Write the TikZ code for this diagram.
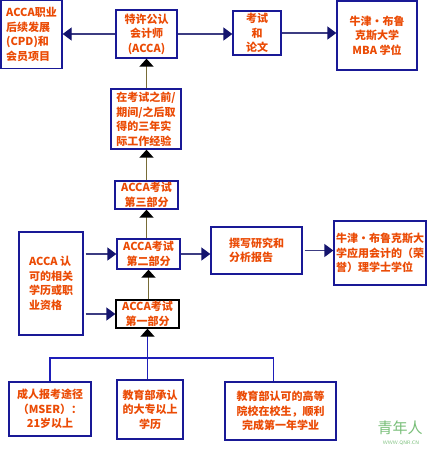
\documentclass[tikz,border=0pt]{standalone}
\usepackage{fontspec}
\newfontfamily\cjk{Noto Sans CJK SC}
\usetikzlibrary{arrows.meta,calc}
\definecolor{boxblue}{RGB}{25,25,150}
\definecolor{txtorange}{RGB}{235,75,5}
\definecolor{hline}{RGB}{60,60,130}
\definecolor{headnavy}{RGB}{20,20,110}
\definecolor{olive}{RGB}{120,108,55}
\definecolor{treeblue}{RGB}{30,30,185}
\definecolor{wmgreen}{RGB}{120,190,120}
\tikzset{
  x=1pt, y=-1pt,
  box/.style={draw=boxblue, line width=1.3pt, text=txtorange, inner sep=1pt,
    font=\cjk\bfseries\fontsize{11}{14.5}\selectfont, align=center},
  lbox/.style={box, align=left},
  harrow/.style={draw=hline, line width=1.3pt, -{Triangle[width=13pt,length=9pt,fill=headnavy,color=headnavy]}},
  varrow/.style={draw=olive, line width=1.5pt, -{Triangle[width=14pt,length=8pt,fill=black,color=black]}},
  treeline/.style={draw=treeblue, line width=1.3pt},
  treearrow/.style={treeline, -{Triangle[width=14pt,length=8pt,fill=black,color=black]}}
}
\begin{document}
\begin{tikzpicture}
\fill[white] (0,0) rectangle (430,450);
\useasboundingbox (0,0) rectangle (430,450);
% top row
\node[lbox, minimum width=61pt, minimum height=68pt] (cpd) at (31.5,34.5) {ACCA职业\\后续发展\\(CPD)和\\会员项目};
\node[box, minimum width=61pt, minimum height=48pt] (acca) at (146.5,34) {特许公认\\会计师\\(ACCA)};
\node[box, minimum width=48pt, minimum height=44pt] (exam) at (257,33) {考试\\和\\论文};
\node[box, minimum width=80pt, minimum height=69pt] (mba) at (377,35.5) {牛津·布鲁\\克斯大学\\MBA 学位};
% middle column
\node[lbox, minimum width=70pt, minimum height=60pt] (exp) at (146,119) {在考试之前/\\期间/之后取\\得的三年实\\际工作经验};
\node[box, minimum width=63pt, minimum height=28pt] (p3) at (146.5,195) {ACCA考试\\第三部分};
\node[box, minimum width=63pt, minimum height=30pt] (p2) at (148.5,254) {ACCA考试\\第二部分};
\node[box, draw=black, minimum width=63pt, minimum height=28pt] (p1) at (147.5,314) {ACCA考试\\第一部分};
% left and right of middle
\node[lbox, minimum width=64pt, minimum height=103pt] (qual) at (51,283.5) {ACCA 认\\可的相关\\学历或职\\业资格};
\node[lbox, minimum width=91pt, minimum height=47pt] (rep) at (256.5,250.5) {撰写研究和\\分析报告};
\node[lbox, minimum width=92pt, minimum height=64pt, inner sep=0.5pt] (bsc) at (380,253) {牛津·布鲁克斯大\\学应用会计的（荣\\誉）理学士学位};
% bottom row
\node[box, minimum width=82pt, minimum height=54pt] (mser) at (50,409) {成人报考途径\\（MSER）：\\21岁以上};
\node[box, minimum width=66pt, minimum height=59pt] (dip) at (150,409.5) {教育部承认\\的大专以上\\学历};
\node[box, minimum width=111pt, minimum height=58pt] (ug) at (280.5,411) {教育部认可的高等\\院校在校生，顺利\\完成第一年学业};
% watermark
\node[text=wmgreen, font=\cjk\fontsize{15}{15}\selectfont, inner sep=0pt] (wm) at (400,428) {青年人};
\node[text=wmgreen, font=\sffamily\fontsize{5}{5}\selectfont, inner sep=0pt] (wm2) at (401,443) {WWW.QNR.CN};
% top horizontal arrows
\draw[harrow] (acca.west) -- (cpd.east |- acca.west);
\draw[harrow] (acca.east) -- (exam.west |- acca.east);
\draw[harrow] (exam.east) -- (mba.west |- exam.east);
% vertical chain
\draw[varrow] (exp.north -| acca.south) -- (acca.south);
\draw[varrow] (p3.north) -- (exp.south -| p3.north);
\draw[varrow] (p2.north -| p3.south) -- (p3.south);
\draw[varrow] (p1.north -| p2.south) -- (p2.south);
% side arrows
\draw[harrow, shorten <=2pt] (qual.east |- p2.west) -- (p2.west);
\draw[harrow, shorten <=2pt] (qual.east |- p1.west) -- (p1.west);
\draw[harrow] (p2.east) -- (rep.west |- p2.east);
\draw[harrow, shorten <=2pt] (rep.east) -- (bsc.west |- rep.east);
% bottom tree
\coordinate (bus) at (148,358);
\draw[treearrow] (dip.north -| p1.south) -- (p1.south);
\draw[treeline] (mser.north) |- (bus) -| ([xshift=-7pt]ug.north);
\end{tikzpicture}
\end{document}
